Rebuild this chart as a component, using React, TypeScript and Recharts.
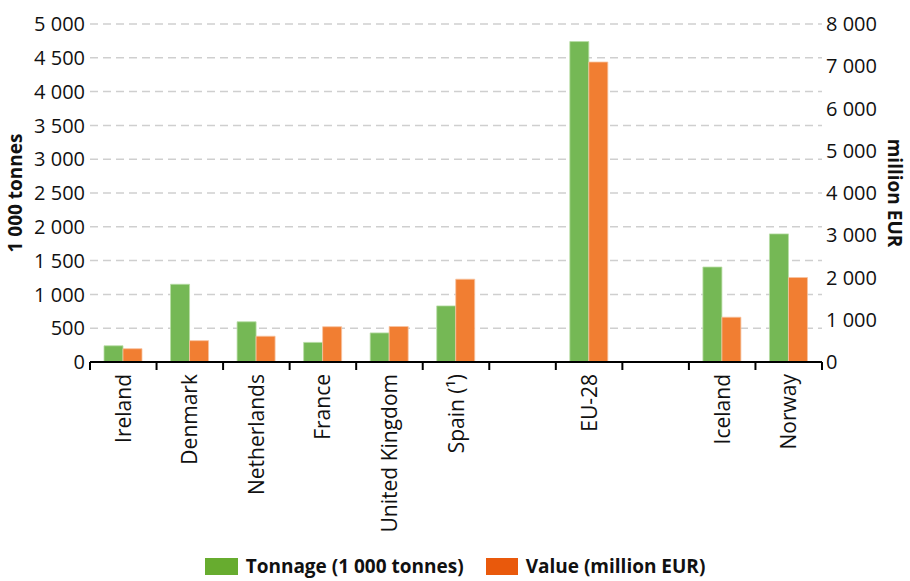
import React from "react";
import { BarChart, Bar, XAxis, YAxis, CartesianGrid, Legend } from "recharts";

// Landings by country: tonnage (left axis) and value (right axis)
const categories = [
  "Ireland",
  "Denmark",
  "Netherlands",
  "France",
  "United Kingdom",
  "Spain (¹)",
  "",
  "EU-28",
  "",
  "Iceland",
  "Norway",
];
const tonnage = [240, 1150, 595, 290, 430, 830, null, 4740, null, 1405, 1895];
const valueEur = [315, 505, 610, 835, 840, 1960, null, 7100, null, 1060, 2000];

const leftTicks = [0, 500, 1000, 1500, 2000, 2500, 3000, 3500, 4000, 4500, 5000];
const rightTicks = [0, 1000, 2000, 3000, 4000, 5000, 6000, 7000, 8000];

const GREEN = "#75b855";
const ORANGE = "#f17e32";
const FONT = "'Open Sans', 'Noto Sans', sans-serif";

const W = 910;
const H = 581;
const LEFT_W = 90;
const RIGHT_W = 88;
const band = (W - LEFT_W - RIGHT_W) / categories.length;

const data = categories.map((name, i) => ({
  name,
  tonnage: tonnage[i],
  value: valueEur[i],
}));

const fmt = (v: number) => String(v).replace(/\B(?=(\d{3})+(?!\d))/g, " ");

const CategoryTick = (props: any) => {
  const { x, y, index } = props;
  const label = categories[index] ?? "";
  return (
    <g>
      <line x1={x - band / 2} x2={x - band / 2} y1={y} y2={y + 8} stroke="#000" strokeWidth={2} />
      {index === categories.length - 1 && (
        <line x1={x + band / 2} x2={x + band / 2} y1={y} y2={y + 8} stroke="#000" strokeWidth={2} />
      )}
      <text
        x={x}
        y={y + 12}
        dy="0.36em"
        transform={`rotate(-90, ${x}, ${y + 12})`}
        textAnchor="end"
        fontSize={21}
        fontFamily={FONT}
        fill="#111"
      >
        {label}
      </text>
    </g>
  );
};

const LegendBox = () => (
  <div
    style={{
      display: "flex",
      justifyContent: "center",
      alignItems: "center",
      height: 30,
      fontFamily: FONT,
      fontWeight: 700,
      fontSize: 19,
      color: "#111",
    }}
  >
    <span style={{ width: 33, height: 17, background: "#67ac2f", marginRight: 8 }} />
    <span style={{ marginRight: 22 }}>Tonnage (1 000 tonnes)</span>
    <span style={{ width: 32, height: 17, background: "#e9590c", marginRight: 8 }} />
    <span>Value (million EUR)</span>
  </div>
);

export default function App() {
  return (
    <div style={{ position: "absolute", left: 0, top: 0, background: "#fff" }}>
      <BarChart
        width={W}
        height={H}
        data={data}
        margin={{ top: 24, right: 0, bottom: 0, left: 0 }}
        barGap={0}
        barSize={19}
      >
        <CartesianGrid
          yAxisId="left"
          vertical={false}
          stroke="#cfcfcf"
          strokeWidth={1.5}
          strokeDasharray="8 5"
        />
        <XAxis
          dataKey="name"
          interval={0}
          height={189}
          tickSize={0}
          tickMargin={0}
          tickLine={false}
          axisLine={{ stroke: "#000", strokeWidth: 2 }}
          tick={<CategoryTick />}
        />
        <YAxis
          yAxisId="left"
          orientation="left"
          width={LEFT_W}
          domain={[0, 5000]}
          ticks={leftTicks}
          tickFormatter={fmt}
          axisLine={false}
          tickLine={false}
          tickSize={0}
          tickMargin={5}
          tick={{ fill: "#111", fontSize: 20, fontFamily: FONT }}
          label={({ viewBox }: any) => {
            const cy = viewBox.y + viewBox.height / 2;
            return (
              <text
                x={15}
                y={cy}
                dy="0.36em"
                transform={`rotate(-90, 15, ${cy})`}
                textAnchor="middle"
                fontSize={19}
                fontWeight={700}
                fontFamily={FONT}
                fill="#111"
              >
                1 000 tonnes
              </text>
            );
          }}
        />
        <YAxis
          yAxisId="right"
          orientation="right"
          width={RIGHT_W}
          domain={[0, 8000]}
          ticks={rightTicks}
          tickFormatter={fmt}
          axisLine={false}
          tickLine={false}
          tickSize={0}
          tickMargin={4}
          tick={{ fill: "#111", fontSize: 20, fontFamily: FONT, textAnchor: "start" }}
          label={({ viewBox }: any) => {
            const cy = viewBox.y + viewBox.height / 2;
            return (
              <text
                x={895}
                y={cy}
                dy="0.36em"
                transform={`rotate(90, 895, ${cy})`}
                textAnchor="middle"
                fontSize={19}
                fontWeight={700}
                fontFamily={FONT}
                fill="#111"
              >
                million EUR
              </text>
            );
          }}
        />
        <Legend verticalAlign="bottom" content={<LegendBox />} />
        <Bar
          yAxisId="left"
          dataKey="tonnage"
          name="Tonnage (1 000 tonnes)"
          fill={GREEN}
          stroke="#b9dda6"
          strokeWidth={0.8}
          isAnimationActive={false}
        />
        <Bar
          yAxisId="right"
          dataKey="value"
          name="Value (million EUR)"
          fill={ORANGE}
          stroke="#f8c3a0"
          strokeWidth={0.8}
          isAnimationActive={false}
        />
      </BarChart>
    </div>
  );
}
